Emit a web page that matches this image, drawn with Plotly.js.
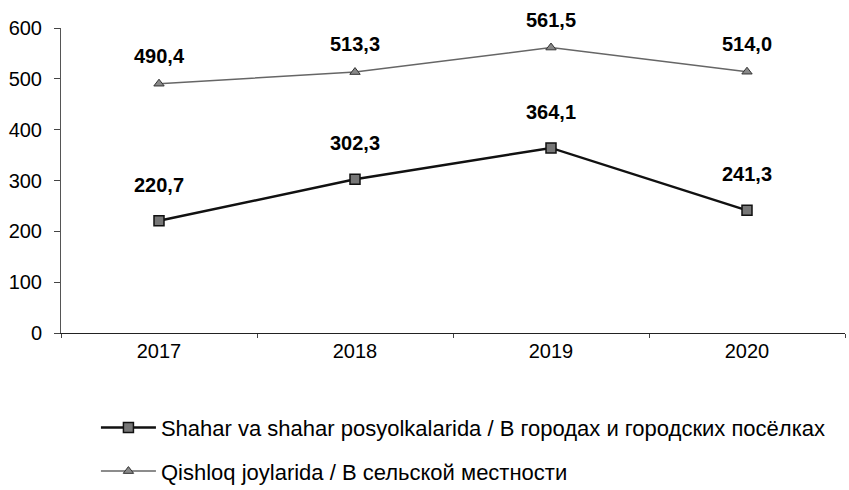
<!DOCTYPE html>
<html>
<head>
<meta charset="utf-8">
<script src="https://cdn.plot.ly/plotly-3.0.1.min.js"></script>
<style>html,body{margin:0;padding:0;background:#fff}#chart{width:849px;height:490px}</style>
</head>
<body>
<div id="chart"></div>
<script>
const years = ['2017', '2018', '2019', '2020'];
const urbanValues = [220.7, 302.3, 364.1, 241.3];
const ruralValues = [490.4, 513.3, 561.5, 514.0];
const urbanName = 'Shahar va shahar posyolkalarida / В городах и городских посёлках';
const ruralName = 'Qishloq joylarida / В сельской местности';
const yTicks = [0, 100, 200, 300, 400, 500, 600];

const fmt = v => v.toFixed(1).replace('.', ',');

const traces = [
  {
    x: years, y: urbanValues, name: urbanName, type: 'scatter', mode: 'lines+markers',
    line: {color: '#111', width: 2.5},
    marker: {symbol: 'square', size: 10, color: '#777', line: {color: '#111', width: 1.5}},
    legendgroup: 'a', cliponaxis: false
  },
  {
    x: years, y: ruralValues, name: ruralName, type: 'scatter', mode: 'lines+markers',
    line: {color: '#666', width: 1.5},
    marker: {symbol: 'triangle-up', size: 9, color: '#888', line: {color: '#333', width: 1}},
    legendgroup: 'b', cliponaxis: false
  }
];

const labelFont = {family: 'Arial, Liberation Sans', size: 20, color: '#000', weight: 'bold'};
const annotations = [];
years.forEach((yr, i) => {
  annotations.push({xref: 'x', yref: 'y', x: i, y: urbanValues[i], text: '<b>' + fmt(urbanValues[i]) + '</b>',
    showarrow: false, yanchor: 'bottom', yshift: 23, font: labelFont});
  annotations.push({xref: 'x', yref: 'y', x: i, y: ruralValues[i], text: '<b>' + fmt(ruralValues[i]) + '</b>',
    showarrow: false, yanchor: 'bottom', yshift: 15, font: labelFont});
});

const layout = {
  width: 849, height: 490,
  margin: {l: 61, r: 4, t: 28, b: 157, autoexpand: false},
  paper_bgcolor: '#fff', plot_bgcolor: '#fff',
  font: {family: 'Arial, Liberation Sans', size: 20, color: '#000'},
  showlegend: true,
  legend: {
    xref: 'container', yref: 'container',
    x: 0.113, xanchor: 'left', y: 0.170, yanchor: 'top',
    orientation: 'v', traceorder: 'grouped', tracegroupgap: 12,
    itemwidth: 55, font: {size: 22, color: '#000'}, bgcolor: 'rgba(0,0,0,0)'
  },
  xaxis: {
    type: 'category', range: [-0.5, 3.5], showgrid: false, zeroline: false,
    showline: true, linecolor: '#222', linewidth: 1.2,
    ticks: 'outside', tickson: 'boundaries', ticklen: 4, tickcolor: '#444',
    tickfont: {size: 20}, fixedrange: true, automargin: false
  },
  yaxis: {
    range: [0, 600], tickvals: yTicks, showgrid: false, zeroline: false,
    showline: true, linecolor: '#555', linewidth: 1,
    ticks: 'outside', ticklen: 6, tickcolor: '#444', ticklabelstandoff: 8,
    tickfont: {size: 20}, fixedrange: true, automargin: false
  },
  annotations: annotations
};

Plotly.newPlot('chart', traces, layout, {displayModeBar: false, staticPlot: true});
</script>
</body>
</html>
